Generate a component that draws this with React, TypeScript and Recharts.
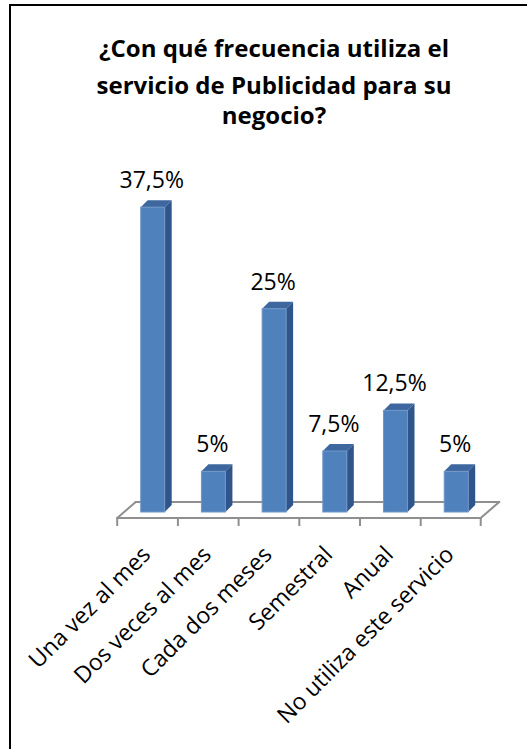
import React from 'react';
import { BarChart, Bar, XAxis, YAxis } from 'recharts';

const categories = [
  'Una vez al mes',
  'Dos veces al mes',
  'Cada dos meses',
  'Semestral',
  'Anual',
  'No utiliza este servicio',
];
const values = [37.5, 5, 25, 7.5, 12.5, 5];
const titleLines = [
  '¿Con qué frecuencia utiliza el',
  'servicio de Publicidad para su',
  'negocio?',
];

const data = categories.map((name, i) => ({ name, value: values[i] }));

const GAP = 0.3;
const DX = 7;
const DY = 7;
const FONT = '"Open Sans", sans-serif';
const FLOOR = '#8f8f8f';

function fmt(v: number) {
  return String(v).replace('.', ',') + '%';
}

function Bar3D(props: any) {
  const { x, y, width, height, index } = props;
  const B = width / (1 - 2 * GAP);
  const cx = x + width / 2;
  const base = y + height;
  const fl = cx - B / 2 - 5.5;
  const fr = cx + B / 2 - 5.5;
  const bl = fl + 18.5;
  const br = fr + 18.5;
  const fy = base + 6;
  const by = base - 10;
  const last = index === data.length - 1;
  const ls = { stroke: FLOOR, strokeWidth: 2 };
  return (
    <g>
      <line x1={fl - 1} y1={fy} x2={fr + 1} y2={fy} {...ls} />
      <line x1={bl - 1} y1={by} x2={br + 1} y2={by} {...ls} />
      {index === 0 && <line x1={fl} y1={fy} x2={bl} y2={by} {...ls} />}
      {last && <line x1={fr} y1={fy} x2={br} y2={by} {...ls} />}
      <line x1={fl} y1={fy} x2={fl} y2={fy + 8} {...ls} />
      {last && <line x1={fr} y1={fy} x2={fr} y2={fy + 8} {...ls} />}
      <polygon
        points={`${x},${y} ${x + DX},${y - DY} ${x + width + DX},${y - DY} ${x + width},${y}`}
        fill="#3D679E"
      />
      <polygon
        points={`${x + width},${y} ${x + width + DX},${y - DY} ${x + width + DX},${base - DY} ${x + width},${base}`}
        fill="#30558A"
      />
      <rect x={x} y={y} width={width} height={height} fill="#4F81BD" stroke="#7096C8" strokeWidth={1} />
    </g>
  );
}

function ValueLabel(props: any) {
  const { x, y, width, value } = props;
  return (
    <text
      x={x + width / 2 - 1}
      y={y - 19}
      textAnchor="middle"
      fontFamily={FONT}
      fontSize={23}
      fill="#000"
    >
      {fmt(value)}
    </text>
  );
}

function CatTick(props: any) {
  const { x, y, payload } = props;
  const ax = x - 1;
  const ay = y + 44;
  return (
    <text
      x={ax}
      y={ay}
      transform={`rotate(-45, ${ax}, ${ay})`}
      textAnchor="end"
      fontFamily={FONT}
      fontSize={23}
      fill="#000"
    >
      {payload.value}
    </text>
  );
}

export default function App() {
  return (
    <div style={{ position: 'absolute', left: 0, top: 0, width: 527, height: 749, overflow: 'hidden', background: '#fff' }}>
      <div
        style={{
          position: 'absolute',
          left: 9,
          top: 4,
          width: 600,
          height: 800,
          borderLeft: '2px solid #000',
          borderTop: '2px solid #000',
        }}
      />
      {titleLines.map((t, i) => (
        <div
          key={i}
          style={{
            position: 'absolute',
            left: 0,
            width: 548,
            top: [57, 94, 124][i] - 26,
            height: 34,
            lineHeight: '34px',
            textAlign: 'center',
            fontFamily: FONT,
            fontWeight: 700,
            fontSize: 24,
            color: '#000',
            whiteSpace: 'nowrap',
          }}
        >
          {t}
        </div>
      ))}
      <div style={{ position: 'absolute', left: 0, top: 0 }}>
        <BarChart
          width={527}
          height={749}
          data={data}
          margin={{ top: 186.8, right: 40.3, bottom: 37, left: 122.5 }}
          barCategoryGap="30%"
        >
          <YAxis hide domain={[0, 40]} />
          <XAxis
            dataKey="name"
            interval={0}
            height={200}
            tickLine={false}
            axisLine={false}
            tickSize={0}
            tickMargin={0}
            tick={<CatTick />}
          />
          <Bar
            dataKey="value"
            shape={<Bar3D />}
            label={<ValueLabel />}
            isAnimationActive={false}
          />
        </BarChart>
      </div>
    </div>
  );
}
